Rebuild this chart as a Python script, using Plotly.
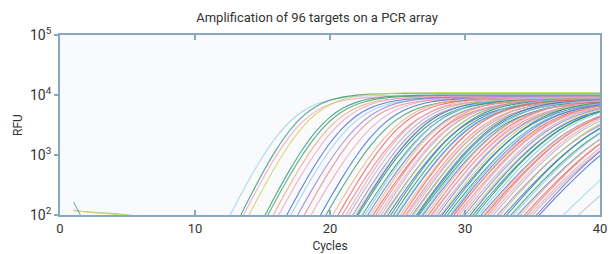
import math
import plotly.graph_objects as go

# ---------------- data ----------------
cycles = list(range(1, 41))

# cycle at which each of the 96 wells crosses 10^2 RFU (bottom of the axis)
ct_at_100 = [
    12.6, 13.4, 13.6, 14.0, 15.2, 15.4, 15.8, 16.2, 16.8, 17.1,
    17.6, 18.1, 18.6, 19.3, 19.7, 20.2, 20.6, 20.9, 21.2, 21.4,
    21.7, 21.9, 22.0, 22.1, 22.4, 22.6, 22.8, 23.0, 23.2, 23.4,
    23.6, 23.8, 24.0, 24.1, 24.3, 24.5, 24.7, 24.9, 25.0, 25.2,
    25.4, 25.6, 25.7, 25.9, 26.1, 26.2, 26.4, 26.5, 26.6, 26.8,
    26.9, 27.1, 27.3, 27.5, 27.6, 27.8, 28.0, 28.2, 28.3, 28.5,
    28.7, 28.9, 29.0, 29.1, 29.2, 29.4, 29.6, 29.8, 30.0, 30.2,
    30.4, 30.6, 30.8, 31.0, 31.2, 31.4, 31.5, 31.7, 31.9, 32.1,
    32.4, 32.6, 32.9, 33.1, 33.4, 33.6, 33.9, 34.1, 34.4, 34.6,
    34.8, 35.0, 35.3, 35.5, 37.3, 38.4,
]

# plateau level of each well, log10(RFU)
log_plateau = [
    4.00, 4.03, 3.98, 4.04, 4.00, 3.99, 3.97, 3.98, 3.96, 3.95,
    3.97, 3.94, 3.96, 3.95, 3.93, 3.96, 3.94, 3.92, 3.95, 3.93,
    3.91, 3.94, 3.92, 3.90, 3.93, 3.95, 3.91, 3.92, 3.89, 3.94,
    3.92, 3.90, 3.93, 3.91, 3.88, 3.92, 3.90, 3.94, 3.89, 3.91,
    3.93, 3.90, 3.88, 3.92, 3.91, 3.89, 3.93, 3.90, 3.87, 3.92,
    3.90, 3.88, 3.91, 3.89, 3.93, 3.90, 3.87, 3.91, 3.89, 3.92,
    3.88, 3.90, 3.91, 3.87, 3.89, 3.92, 3.88, 3.90, 3.89, 3.91,
    3.87, 3.90, 3.88, 3.91, 3.89, 3.87, 3.90, 3.88, 3.91, 3.89,
    3.87, 3.90, 3.88, 3.89, 3.87, 3.90, 3.88, 3.86, 3.89, 3.87,
    3.88, 3.86, 3.87, 3.88, 3.85, 3.85,
]

# initial rise of each well, decades per cycle
log_slope = [
    0.46, 0.48, 0.47, 0.46, 0.46, 0.45, 0.45, 0.44, 0.45, 0.44,
    0.43, 0.44, 0.42, 0.43, 0.42, 0.41, 0.42, 0.40, 0.41, 0.40,
    0.40, 0.39, 0.40, 0.39, 0.38, 0.39, 0.38, 0.38, 0.37, 0.38,
    0.37, 0.38, 0.36, 0.37, 0.36, 0.37, 0.36, 0.35, 0.36, 0.35,
    0.36, 0.35, 0.34, 0.35, 0.34, 0.35, 0.34, 0.34, 0.33, 0.34,
    0.33, 0.34, 0.33, 0.32, 0.33, 0.32, 0.33, 0.32, 0.31, 0.32,
    0.31, 0.32, 0.31, 0.30, 0.31, 0.30, 0.31, 0.30, 0.30, 0.29,
    0.30, 0.29, 0.30, 0.29, 0.28, 0.29, 0.28, 0.29, 0.28, 0.28,
    0.27, 0.28, 0.27, 0.28, 0.27, 0.27, 0.26, 0.27, 0.26, 0.27,
    0.26, 0.26, 0.27, 0.26, 0.24, 0.22,
]

# early baseline noise (a few wells)
noise_cycles = [1, 2, 3, 4, 5, 6]
noise_blue = [165, 62, 40, 35, 30, 28]
noise_green = [118, 112, 109, 106, 101, 95]
noise_yellow = [121, 111, 107, 103, 99, 94]

x_ticks = [0, 10, 20, 30, 40]
y_ticks = [1e2, 1e3, 1e4, 1e5]
y_tick_text = ["10<sup>2</sup>", "10<sup>3</sup>", "10<sup>4</sup>", "10<sup>5</sup>"]

# ---------------- styles ----------------
palette = ["#3a9c72", "#f08a80", "#4472cf", "#f5b084", "#a184d2",
           "#8ccbe4", "#f0a3c4", "#2f8f8a", "#e86a6a", "#c7cf6c",
           "#5a7fd8", "#b6b6b6"]
early_colors = ["#9fd3e8", "#3a9c72", "#f2a3c6", "#d8cf62", "#3a9c72",
                "#4aa57a", "#f5a878", "#f0a3c4", "#4472cf", "#9fd3e8",
                "#a184d2", "#e88a8a", "#f0a3c4", "#4472cf", "#3a9c72",
                "#f5b084"]
late_colors = {92: "#8a6cc8", 93: "#4472cf", 94: "#9fd3e8", 95: "#c0c0c0"}

SHAPE = 1.6  # asymmetry of the amplification curve


def curve(ct, L, b):
    k = SHAPE / (b * math.log(10))
    ch = ct + k * math.log(10 ** ((L - 2) / SHAPE) - 1)
    return [10 ** L / (1 + math.exp(-(c - ch) / k)) ** SHAPE for c in cycles]


fig = go.Figure()
for i, (ct, L, b) in enumerate(zip(ct_at_100, log_plateau, log_slope)):
    if i < len(early_colors):
        col = early_colors[i]
    elif i in late_colors:
        col = late_colors[i]
    else:
        col = palette[(i * 5) % len(palette)]
    fig.add_trace(go.Scatter(
        x=cycles, y=curve(ct, L, b), mode="lines", opacity=0.85,
        line=dict(color=col, width=1.1, shape="spline", smoothing=0.8),
        hoverinfo="skip", showlegend=False))

for ys, col in [(noise_green, "#8fcf7a"), (noise_yellow, "#e6cf70"),
                (noise_blue, "#5b9be0")]:
    fig.add_trace(go.Scatter(
        x=noise_cycles, y=ys, mode="lines",
        line=dict(color=col, width=1),
        hoverinfo="skip", showlegend=False))

axis_col = "#86a9bf"
font = dict(family="Roboto, 'Open Sans', sans-serif", size=12, color="#333333")

fig.update_layout(
    width=612, height=254,
    margin=dict(l=60, r=12, t=35, b=39),
    paper_bgcolor="white", plot_bgcolor="#f9fafc",
    font=font,
    title=dict(text="Amplification of 96 targets on a PCR array",
               x=0.518, xanchor="center", y=0.93, yanchor="middle",
               font=dict(size=13, color="#333333")),
    xaxis=dict(range=[0, 40], tickvals=x_ticks, showgrid=False, zeroline=False,
               showline=True, linecolor=axis_col, linewidth=2, mirror="ticks",
               ticks="inside", ticklen=5, tickcolor=axis_col, tickwidth=2,
               automargin=False, tickfont=dict(size=13),
               title=dict(text="Cycles", standoff=7, font=dict(size=12))),
    yaxis=dict(type="log", range=[2, 5], tickvals=y_ticks, ticktext=y_tick_text,
               showgrid=False, zeroline=False,
               showline=True, linecolor=axis_col, linewidth=2, mirror=True,
               ticks="outside", ticklen=4, tickcolor=axis_col, tickwidth=2,
               automargin=False, tickfont=dict(size=14),
               title=dict(text="RFU", standoff=5, font=dict(size=12))),
)

fig.write_html(
    "out.html",
    config={"displayModeBar": False},
    post_script="document.body.style.margin='0';document.body.style.padding='0';"
                "document.body.style.overflow='hidden';",
)
